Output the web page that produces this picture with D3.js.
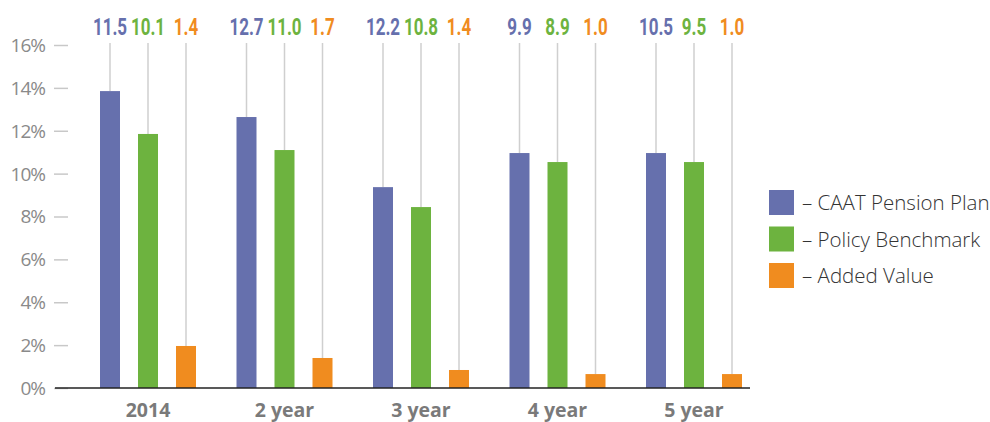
<!DOCTYPE html>
<html><head><meta charset="utf-8">
<script src="https://cdn.jsdelivr.net/npm/d3@7"></script>
<style>
html,body{margin:0;padding:0;background:#fff;}
svg{display:block;}
</style></head>
<body>
<svg id="c" width="990" height="422"></svg>
<script>
const categories = ["2014", "2 year", "3 year", "4 year", "5 year"];
const seriesNames = ["– CAAT Pension Plan", "– Policy Benchmark", "– Added Value"];
const caatBars = [13.85, 12.64, 9.37, 10.96, 10.96];
const benchBars = [11.85, 11.1, 8.44, 10.54, 10.54];
const addedBars = [1.96, 1.4, 0.84, 0.65, 0.65];
const caatLabels = ["11.5", "12.7", "12.2", "9.9", "10.5"];
const benchLabels = ["10.1", "11.0", "10.8", "8.9", "9.5"];
const addedLabels = ["1.4", "1.7", "1.4", "1.0", "1.0"];
const yTicks = [0, 2, 4, 6, 8, 10, 12, 14, 16];
const colors = ["#6670ad", "#6db33f", "#f08c1f"];

const svg = d3.select("#c");
const y = d3.scaleLinear().domain([0, 16]).range([388, 45]);
const x = d3.scaleBand().domain(categories).range([79.75, 762.25]);
const inner = d3.scalePoint().domain([0, 1, 2]).range([-38, 38]);
const barW = 20;

const bars = [caatBars, benchBars, addedBars];
const labels = [caatLabels, benchLabels, addedLabels];

// y axis
const yAxis = d3.axisLeft(y).tickValues(yTicks).tickSize(14).tickPadding(9).tickFormat(d => d + "%");
const ya = svg.append("g").attr("transform", "translate(68,0)").call(yAxis);
ya.select(".domain").remove();
ya.selectAll(".tick line").attr("stroke", "#c8c8c8").attr("stroke-width", 1.5);
ya.selectAll(".tick text").attr("fill", "#8a8a8a").style("font-family", "'Open Sans', sans-serif")
  .style("font-size", "19px").attr("dy", "0.34em").style("letter-spacing", "-1px");

// groups
categories.forEach((c, i) => {
  const cx = x(c) + x.bandwidth() / 2;
  for (let s = 0; s < 3; s++) {
    const mid = cx + inner(s);
    const bx = mid - barW / 2;
    svg.append("line").attr("x1", mid).attr("x2", mid).attr("y1", y(16) - 2).attr("y2", y(bars[s][i]))
      .attr("stroke", "#cfcfcf").attr("stroke-width", 1.5);
    svg.append("rect").attr("x", bx).attr("width", barW).attr("y", y(bars[s][i]))
      .attr("height", y(0) - y(bars[s][i])).attr("fill", colors[s]);
    svg.append("text").attr("transform", `translate(${mid},35) scale(0.74,1)`).attr("text-anchor", "middle")
      .attr("fill", colors[s]).style("font-family", "Roboto, sans-serif")
      .style("font-weight", "bold").style("font-size", "23px")
      .text(labels[s][i]);
  }
});

// x axis baseline
svg.append("line").attr("x1", 55).attr("x2", 750).attr("y1", y(0)).attr("y2", y(0))
  .attr("stroke", "#222").attr("stroke-width", 1.5);
const xAxis = d3.axisBottom(x).tickSize(0).tickPadding(0);
const xa = svg.append("g").attr("transform", `translate(0,${y(0)})`).call(xAxis);
xa.select(".domain").remove();
xa.selectAll(".tick text").attr("y", 29).attr("dy", 0).attr("fill", "#7a7a7a")
  .style("font-family", "'Open Sans', sans-serif").style("font-weight", "bold").style("font-size", "19.5px");

// legend
const lg = svg.append("g").attr("transform", "translate(769,190)");
seriesNames.forEach((n, i) => {
  const g = lg.append("g").attr("transform", `translate(0,${i * 36.5})`);
  g.append("rect").attr("width", 25).attr("height", 25).attr("fill", colors[i]);
  g.append("text").attr("x", 33).attr("y", 20).attr("fill", "#333")
    .style("font-family", "'Open Sans', sans-serif").style("font-size", "20.5px").style("font-weight", "300")
    .text(n);
});
</script>
</body></html>
